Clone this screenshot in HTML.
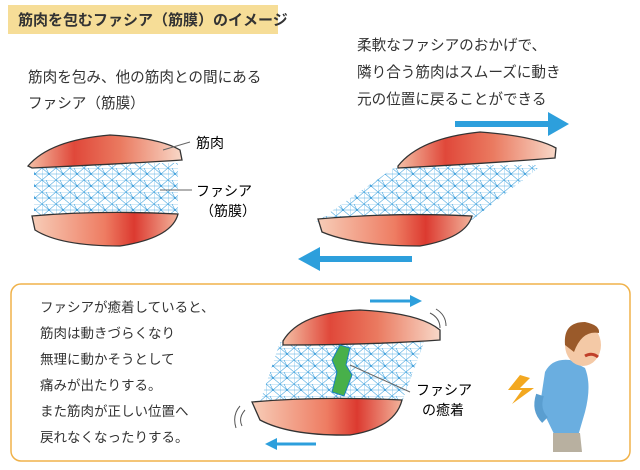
<!DOCTYPE html>
<html><head><meta charset="utf-8"><style>
body{margin:0;width:640px;height:470px;background:#fff;overflow:hidden;font-family:"Liberation Sans","Noto Sans CJK JP",sans-serif;color:#333}
</style></head><body>
<svg width="640" height="470" viewBox="0 0 640 470" xmlns="http://www.w3.org/2000/svg" style="position:absolute;left:0;top:0">
<defs>
<linearGradient id="mt" x1="0" x2="1" y1="0" y2="0">
<stop offset="0" stop-color="#f4c0a6"/><stop offset="0.3" stop-color="#e0483a"/><stop offset="0.6" stop-color="#ea7a60"/><stop offset="1" stop-color="#f8d8c8"/></linearGradient>
<linearGradient id="mb" x1="0" x2="1" y1="0" y2="0">
<stop offset="0" stop-color="#f7cdb8"/><stop offset="0.5" stop-color="#ee7c62"/><stop offset="0.7" stop-color="#dc3a30"/><stop offset="1" stop-color="#f2b49c"/></linearGradient>
<pattern id="mesh" width="14" height="12" patternUnits="userSpaceOnUse">
<rect width="14" height="12" fill="#fff"/>
<path d="M0 0L14 0L7 6L0 0M0 12L7 6L14 12M0 0L0 12M0 6L14 6M7 6L4 0" stroke="#4aa8e0" stroke-width="0.6" fill="none"/>
<circle cx="7" cy="6" r="0.9" fill="#3a9ad8"/></pattern>
</defs>
<rect x="8" y="5" width="270" height="29" fill="#f6dd97"/>
<text x="18" y="25" font-size="15" font-weight="bold" fill="#333">筋肉を包むファシア（筋膜）のイメージ</text>
<g font-size="14.6" fill="#333">
<text x="28" y="82">筋肉を包み、他の筋肉との間にある</text>
<text x="28" y="108">ファシア（筋膜）</text>
<text x="357" y="50">柔軟なファシアのおかげで、</text>
<text x="357" y="77">隣り合う筋肉はスムーズに動き</text>
<text x="357" y="104">元の位置に戻ることができる</text>
</g>
<!-- left diagram -->
<rect x="34" y="163" width="144" height="56" fill="url(#mesh)"/>
<path d="M28 166Q50 140 110 135Q160 138 180 150L182 160Q120 164 32 168Z" fill="url(#mt)" stroke="#333" stroke-width="1.3"/>
<path d="M32 216Q100 210 178 214Q172 238 120 246Q60 246 35 230Z" fill="url(#mb)" stroke="#333" stroke-width="1.3"/>
<path d="M163 150L190 142M160 190L192 190" stroke="#666" stroke-width="1"/>
<text x="196" y="148" font-size="14">筋肉</text>
<text x="196" y="196" font-size="14">ファシア</text>
<text x="200" y="216" font-size="14">（筋膜）</text>
<!-- right diagram -->
<path d="M316 222L398 165L542 165L472 220Z" fill="url(#mesh)"/>
<path d="M398 166Q420 138 480 132Q535 136 556 148L555 158Q480 164 398 168Z" fill="url(#mt)" stroke="#333" stroke-width="1.3"/>
<path d="M318 219Q400 212 472 216Q466 238 420 246Q355 246 322 232Z" fill="url(#mb)" stroke="#333" stroke-width="1.3"/>
<path d="M455 124H550" stroke="#2d9fdc" stroke-width="6"/><path d="M548 112L569 124L548 136Z" fill="#2d9fdc"/>
<path d="M318 259H412" stroke="#2d9fdc" stroke-width="6"/><path d="M320 247L298 259L320 271Z" fill="#2d9fdc"/>
<!-- bottom box -->
<rect x="11" y="284" width="619" height="177" rx="10" fill="none" stroke="#f0b24a" stroke-width="1.5"/>
<g font-size="13.5" fill="#333">
<text x="40" y="312">ファシアが癒着していると、</text>
<text x="40" y="338">筋肉は動きづらくなり</text>
<text x="40" y="364">無理に動かそうとして</text>
<text x="40" y="390">痛みが出たりする。</text>
<text x="40" y="416">また筋肉が正しい位置へ</text>
<text x="40" y="442">戻れなくなったりする。</text>
</g>
<path d="M260 402L280 342L424 342L402 402Z" fill="url(#mesh)"/>
<path d="M283 341Q300 312 360 310Q420 313 440 330L440 340Q370 345 283 345Z" fill="url(#mt)" stroke="#333" stroke-width="1.3"/>
<path d="M252 402Q320 396 402 400Q395 428 350 435Q290 436 260 420Z" fill="url(#mb)" stroke="#333" stroke-width="1.3"/>
<path d="M340 345L350 348L346 365L352 375L344 396L332 392L337 372L332 360Z" fill="#48b04a" stroke="#1a80c0"/>
<path d="M350 365L410 392" stroke="#666"/>
<text x="416" y="395" font-size="14">ファシア</text>
<text x="422" y="415" font-size="14">の癒着</text>
<path d="M370 301H412" stroke="#2d9fdc" stroke-width="3"/><path d="M410 295L422 301L410 307Z" fill="#2d9fdc"/>
<path d="M275 444H316" stroke="#2d9fdc" stroke-width="3"/><path d="M277 438L265 444L277 450Z" fill="#2d9fdc"/>
<path d="M430 313Q440 318 440 328M436 309Q446 315 446 326M245 410Q238 418 242 426M240 406Q232 415 236 428" stroke="#555" fill="none"/>
<!-- person -->
<path d="M545 372Q552 358 570 360L585 368Q592 385 585 412L578 436L555 436L540 405Z" fill="#6aaee0"/>
<path d="M540 395Q535 410 545 420" stroke="#5a9ed0" stroke-width="8" fill="none"/>
<path d="M553 433L580 433L582 452L553 452Z" fill="#b8b0a0"/>
<ellipse cx="583" cy="345" rx="18" ry="21" fill="#f4c9a6"/>
<path d="M565 345Q563 322 585 322Q600 325 599 333Q582 330 574 352Z" fill="#9a5a2a"/>
<path d="M585 356Q592 352 598 357" stroke="#c0402a" stroke-width="3" fill="none"/>
<path d="M520 375L508 390L522 390L512 404L534 388L520 388L530 378Z" fill="#f3a820"/>
</svg>
</body></html>
